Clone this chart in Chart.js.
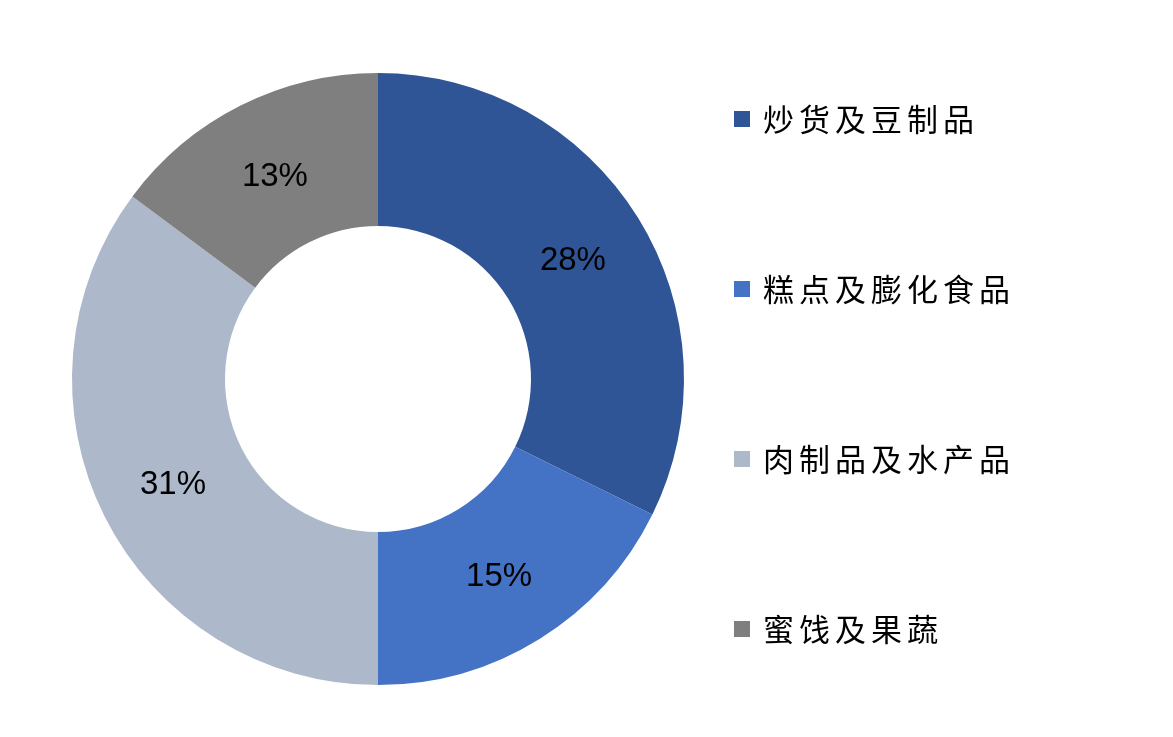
<!DOCTYPE html>
<html>
<head>
<meta charset="utf-8">
<script src="https://cdn.jsdelivr.net/npm/chart.js@4/dist/chart.umd.min.js"></script>
<style>
  html, body { margin: 0; padding: 0; background: #fff; }
  #wrap { position: relative; width: 1173px; height: 737px; }
  #legend { position: absolute; left: 734px; top: 0; margin: 0; padding: 0; list-style: none; }
  #legend li { position: absolute; left: 0; white-space: nowrap; height: 40px; line-height: 40px;
    font-family: "Noto Sans CJK SC", sans-serif; font-size: 31px; letter-spacing: 5px; color: #000; }
  #legend span.box { display: inline-block; width: 16px; height: 16px; margin-right: 13px; vertical-align: middle; position: relative; top: -4px; }
</style>
</head>
<body>
<div id="wrap">
  <canvas id="pie" width="1173" height="737"></canvas>
  <ul id="legend"></ul>
</div>
<script>
"use strict";
// categories and shares (%); labels show them rounded
const categories = ["炒货及豆制品", "糕点及膨化食品", "肉制品及水产品", "蜜饯及果蔬"];
const shares = [28.1, 15.4, 30.6, 12.9];
const sliceColors = ["#2F5597", "#4472C4", "#ADB9CA", "#7F7F7F"];
const legendTops = [98, 268, 438, 608];

/**
 * Writes the value of each slice at the middle of its arc.
 */
const sliceLabels = {
    id: 'sliceLabels',
    afterDatasetsDraw(chart) {
        let ctx = chart.ctx;
        let meta = chart.getDatasetMeta(0);
        ctx.save();
        ctx.font = '33px "Liberation Sans", Arial, sans-serif';
        ctx.fillStyle = '#000';
        ctx.textAlign = 'center';
        ctx.textBaseline = 'middle';
        meta.data.forEach(function (arc, i) {
            let p = arc.tooltipPosition();
            ctx.fillText(Math.round(shares[i]) + '%', p.x, p.y + 3);
        });
        ctx.restore();
    }
};

var pieCanvas = document.getElementById('pie');
let pieChart = new Chart(pieCanvas, {
    type: 'doughnut',
    data: {
        labels: categories,
        datasets: [{
            data: shares,
            backgroundColor: sliceColors,
            borderWidth: 0
        }]
    },
    options: {
        responsive: false,
        animation: false,
        cutout: '50%',
        layout: { padding: { left: 72, top: 73, right: 489, bottom: 52 } },
        plugins: {
            legend: { display: false },
            tooltip: { enabled: false }
        }
    },
    plugins: [sliceLabels]
});

// legend built from the same arrays
let legendList = document.getElementById('legend');
for (let i = 0; i < categories.length; i++) {
    let li = document.createElement('li');
    li.style.top = legendTops[i] + 'px';
    let box = document.createElement('span');
    box.className = 'box';
    box.style.background = sliceColors[i];
    li.appendChild(box);
    li.appendChild(document.createTextNode(categories[i]));
    legendList.appendChild(li);
}
</script>
</body>
</html>
